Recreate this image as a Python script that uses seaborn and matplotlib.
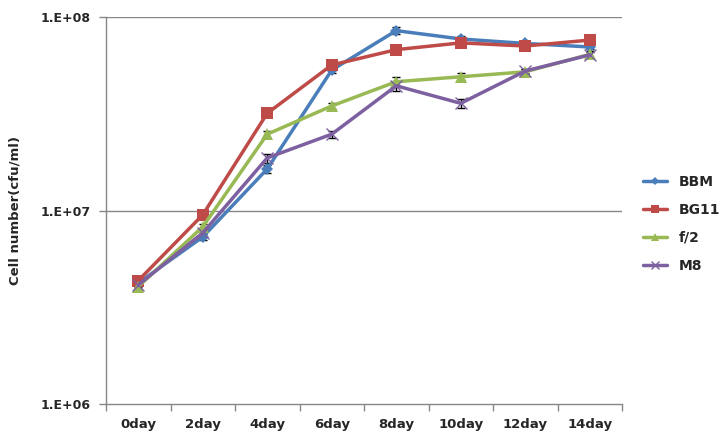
import matplotlib
matplotlib.use("Agg")
import matplotlib.pyplot as plt
import seaborn as sns
import pandas as pd
import numpy as np
from matplotlib.ticker import FixedLocator, NullLocator, FixedFormatter
from matplotlib.lines import Line2D

days = ["0day", "2day", "4day", "6day", "8day", "10day", "12day", "14day"]
bbm = [4.22e6, 7.3e6, 1.64e7, 5.32e7, 8.5e7, 7.7e7, 7.3e7, 7.0e7]
bg11 = [4.34e6, 9.5e6, 3.18e7, 5.65e7, 6.78e7, 7.35e7, 7.08e7, 7.6e7]
f2 = [4.04e6, 8.24e6, 2.48e7, 3.47e7, 4.63e7, 4.91e7, 5.21e7, 6.41e7]
m8 = [4.12e6, 7.66e6, 1.87e7, 2.48e7, 4.41e7, 3.58e7, 5.26e7, 6.37e7]
bbm_err = [0.1e6, 0.25e6, 0.8e6, 2.0e6, 3.5e6, 2.5e6, 2.5e6, 2.0e6]
bg11_err = [0.1e6, 0.3e6, 0.8e6, 1.5e6, 1.5e6, 2.0e6, 2.5e6, 1.5e6]
f2_err = [0.1e6, 0.3e6, 1.0e6, 1.2e6, 2.5e6, 2.0e6, 1.5e6, 2.5e6]
m8_err = [0.1e6, 0.25e6, 1.0e6, 1.0e6, 2.5e6, 1.8e6, 1.5e6, 2.5e6]

series = ["BBM", "BG11", "f/2", "M8"]
values = [bbm, bg11, f2, m8]
errors = [bbm_err, bg11_err, f2_err, m8_err]
colors = ["#4A7EBB", "#BE4B48", "#98B954", "#7D60A0"]
markers = ["D", "s", "^", "X"]
msizes = [6, 8, 8, 8]

rows = []
for s, vals in zip(series, values):
    for i, (d, v) in enumerate(zip(days, vals)):
        rows.append({"day": d, "x": i, "value": v, "medium": s})
df = pd.DataFrame(rows)

sns.set_style("white")
plt.rcParams["font.family"] = ["DejaVu Sans"]

fig = plt.figure(figsize=(7.27, 4.43), dpi=100)
ax = fig.add_axes([106/727, 1-404/443, (622-106)/727, (404-17)/443])

ax.set_yscale("log")
ax.set_ylim(1e6, 1e8)
ax.set_xlim(-0.5, 7.5)

for g in [1e7, 1e8]:
    ax.axhline(g, color="#868686", lw=1, zorder=0)

for s, vals, errs, c in zip(series, values, errors, colors):
    ax.errorbar(range(len(days)), vals, yerr=errs, fmt="none", ecolor="black",
                elinewidth=1, capsize=3, capthick=1, zorder=2)

sns.lineplot(data=df, x="x", y="value", hue="medium", style="medium",
             palette=dict(zip(series, colors)), markers=dict(zip(series, markers)),
             dashes=False, lw=2.5, ax=ax, legend=False, zorder=3)
for line, ms, m, c in zip(ax.lines[-4:], msizes, markers, colors):
    line.set_markersize(ms)
    if m == "X":
        line.set_marker("x")
        line.set_markeredgewidth(1.0)
        line.set_markeredgecolor(c)
    else:
        line.set_markeredgewidth(0)

ax.set_xlabel("")
ax.set_ylabel("Cell number(cfu/ml)", fontsize=9.5, fontweight="bold", labelpad=14)

ax.yaxis.set_major_locator(FixedLocator([1e6, 1e7, 1e8]))
ax.yaxis.set_major_formatter(FixedFormatter(["1.E+06", "1.E+07", "1.E+08"]))
ax.yaxis.set_minor_locator(NullLocator())
ax.tick_params(axis="y", which="major", length=5, width=1, color="#868686",
               labelsize=9, pad=6, left=True)
for t in ax.get_yticklabels():
    t.set_fontweight("bold")

ax.xaxis.set_major_locator(FixedLocator(np.arange(-0.5, 8, 1)))
ax.xaxis.set_major_formatter(FixedFormatter([""] * 9))
ax.xaxis.set_minor_locator(FixedLocator(np.arange(0, 8)))
ax.xaxis.set_minor_formatter(FixedFormatter(days))
ax.tick_params(axis="x", which="major", length=5, width=1, color="#868686", bottom=True)
ax.tick_params(axis="x", which="minor", length=0, labelsize=9.5, pad=10)
for t in ax.get_xticklabels(minor=True):
    t.set_fontweight("bold")

for side in ["top", "right"]:
    ax.spines[side].set_visible(False)
for side in ["left", "bottom"]:
    ax.spines[side].set_color("#868686")
    ax.spines[side].set_linewidth(1)

handles = [Line2D([0], [0], color=c, lw=2.5, marker=("x" if m == "X" else m),
                  markersize=ms * 0.75,
                  markeredgewidth=0 if m != "X" else 1.0, markeredgecolor=c)
           for c, m, ms in zip(colors, markers, msizes)]
leg = fig.legend(handles, series, loc="upper left", bbox_to_anchor=(643/727, 1-175/443),
                 frameon=False, handlelength=1.75, handletextpad=0.85, labelspacing=1.0,
                 borderpad=0, borderaxespad=0,
                 prop={"weight": "bold", "size": 10})

fig.savefig("out.png", dpi=100)
